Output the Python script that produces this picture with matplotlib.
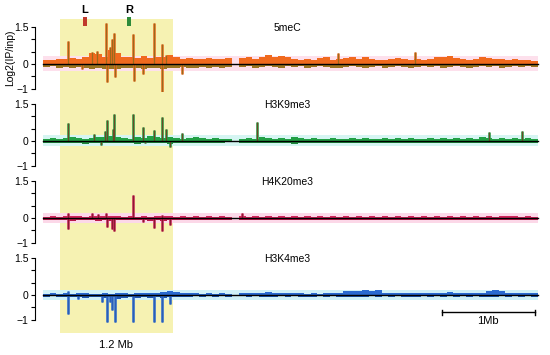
import numpy as np
import matplotlib
matplotlib.use('Agg')
import matplotlib.pyplot as plt
from matplotlib.patches import Rectangle

plt.rcParams['font.family'] = ['Liberation Sans', 'DejaVu Sans']

# genome coordinates in Mb
seg_a = (0.0, 2.03)
seg_b = (2.11, 5.32)
highlight = (0.18, 1.40)
mark_l = 0.452
mark_r = 0.927
scale_bar = (4.29, 5.29)

tracks = ['5meC', 'H3K9me3', 'H4K20me3', 'H3K4me3']

# background profiles (log2 IP/input), 29 bins in segment A, 46 in segment B
mec_up_a = [0.18, 0.15, 0.2, 0.22, 0.25, 0.2, 0.28, 0.45, 0.42, 0.3, 0.55, 0.45, 0.28, 0.3, 0.25,
            0.32, 0.25, 0.3, 0.28, 0.35, 0.3, 0.22, 0.25, 0.2, 0.22, 0.25, 0.2, 0.22, 0.25]
mec_dn_a = [-0.12, -0.1, -0.15, -0.12, -0.18, -0.12, -0.15, -0.2, -0.15, -0.2, -0.22, -0.2, -0.15, -0.18, -0.15,
            -0.2, -0.18, -0.15, -0.2, -0.18, -0.15, -0.12, -0.15, -0.18, -0.12, -0.15, -0.12, -0.15, -0.12]
mec_up_b = [0.25, 0.3, 0.22, 0.3, 0.35, 0.28, 0.32, 0.3, 0.2, 0.15, 0.22, 0.18, 0.25, 0.3, 0.15, 0.2,
            0.25, 0.3, 0.22, 0.3, 0.2, 0.15, 0.18, 0.2, 0.25, 0.22, 0.15, 0.2, 0.18, 0.22, 0.3,
            0.28, 0.32, 0.25, 0.2, 0.15, 0.2, 0.3, 0.25, 0.22, 0.2, 0.18, 0.2, 0.15, 0.18, 0.12]
mec_dn_b = [-0.12, -0.1, -0.15, -0.12, -0.1, -0.12, -0.15, -0.1, -0.12, -0.1, -0.15, -0.12, -0.1, -0.12, -0.15,
            -0.18, -0.12, -0.1, -0.12, -0.15, -0.12, -0.1, -0.15, -0.12, -0.1, -0.12, -0.15, -0.12, -0.1,
            -0.12, -0.1, -0.15, -0.12, -0.1, -0.12, -0.15, -0.12, -0.1, -0.12, -0.1, -0.15, -0.12, -0.1,
            -0.12, -0.1, -0.12]

k9_up_a = [0.1, 0.12, 0.1, 0.12, 0.15, 0.12, 0.1, 0.12, 0.15, 0.18, 0.2, 0.15, 0.12, 0.1, 0.15,
           0.12, 0.2, 0.15, 0.12, 0.18, 0.12, 0.1, 0.12, 0.15, 0.12, 0.1, 0.12, 0.1, 0.08]
k9_dn_a = [-0.08, -0.1, -0.08, -0.1, -0.08, -0.1, -0.12, -0.1, -0.08, -0.1, -0.08, -0.1, -0.08, -0.1, -0.12,
           -0.08, -0.1, -0.08, -0.1, -0.12, -0.1, -0.08, -0.1, -0.08, -0.1, -0.08, -0.1, -0.08, -0.06]
k9_up_b = [0.1, 0.12, 0.1, 0.15, 0.12, 0.1, 0.12, 0.1, 0.15, 0.12, 0.1, 0.12, 0.08, 0.1, 0.12, 0.1,
           0.08, 0.12, 0.1, 0.12, 0.1, 0.08, 0.12, 0.1, 0.12, 0.1, 0.12, 0.1, 0.08, 0.12, 0.1,
           0.12, 0.1, 0.12, 0.1, 0.12, 0.1, 0.15, 0.12, 0.1, 0.12, 0.1, 0.12, 0.1, 0.12, 0.1]
k9_dn_b = [-0.08, -0.1, -0.08, -0.1, -0.08, -0.1, -0.08, -0.1, -0.12, -0.08, -0.1, -0.08, -0.1, -0.08, -0.1,
           -0.08, -0.1, -0.08, -0.1, -0.08, -0.1, -0.08, -0.1, -0.08, -0.1, -0.08, -0.1, -0.08, -0.1,
           -0.08, -0.1, -0.08, -0.1, -0.08, -0.1, -0.08, -0.1, -0.08, -0.1, -0.08, -0.1, -0.08, -0.1,
           -0.08, -0.1, -0.08]

k20_up_a = [0.06, 0.08, 0.06, 0.08, 0.1, 0.08, 0.06, 0.08, 0.1, 0.08, 0.1, 0.08, 0.06, 0.08, 0.06,
            0.08, 0.06, 0.08, 0.1, 0.08, 0.06, 0.08, 0.06, 0.08, 0.06, 0.08, 0.06, 0.08, 0.06]
k20_dn_a = [-0.08, -0.1, -0.08, -0.1, -0.12, -0.1, -0.08, -0.1, -0.12, -0.1, -0.12, -0.1, -0.08, -0.1, -0.08,
            -0.1, -0.12, -0.1, -0.12, -0.1, -0.08, -0.1, -0.08, -0.1, -0.08, -0.1, -0.08, -0.1, -0.08]
k20_up_b = [0.08, 0.06, 0.08, 0.06, 0.08, 0.06, 0.08, 0.06, 0.08, 0.06, 0.08, 0.06, 0.08, 0.06, 0.08,
            0.06, 0.08, 0.06, 0.08, 0.06, 0.08, 0.06, 0.08, 0.06, 0.08, 0.06, 0.08, 0.06, 0.08, 0.06,
            0.08, 0.06, 0.08, 0.06, 0.08, 0.06, 0.08, 0.06, 0.08, 0.06, 0.08, 0.1, 0.08, 0.06, 0.08, 0.06]
k20_dn_b = [-0.08, -0.1, -0.08, -0.1, -0.08, -0.1, -0.08, -0.1, -0.08, -0.1, -0.08, -0.1, -0.08, -0.1, -0.08,
            -0.1, -0.08, -0.1, -0.08, -0.1, -0.08, -0.1, -0.08, -0.1, -0.08, -0.1, -0.08, -0.1, -0.08,
            -0.1, -0.08, -0.1, -0.08, -0.1, -0.08, -0.1, -0.08, -0.1, -0.08, -0.1, -0.08, -0.1, -0.08,
            -0.1, -0.08, -0.1]

k4_up_a = [0.06, 0.08, 0.06, 0.08, 0.06, 0.1, 0.08, 0.06, 0.04, 0.08, 0.06, 0.1, 0.08, 0.06, 0.08,
           0.1, 0.08, 0.1, 0.12, 0.18, 0.12, 0.08, 0.1, 0.08, 0.06, 0.08, 0.06, 0.08, 0.06]
k4_dn_a = [-0.08, -0.06, -0.08, -0.1, -0.08, -0.1, -0.12, -0.1, -0.08, -0.12, -0.1, -0.15, -0.12, -0.1, -0.12,
           -0.1, -0.12, -0.1, -0.12, -0.1, -0.08, -0.1, -0.08, -0.06, -0.08, -0.06, -0.08, -0.06, -0.08]
k4_up_b = [0.08, 0.1, 0.08, 0.1, 0.12, 0.08, 0.1, 0.08, 0.1, 0.08, 0.06, 0.08, 0.06, 0.08, 0.1, 0.1,
           0.15, 0.18, 0.15, 0.2, 0.15, 0.22, 0.1, 0.08, 0.1, 0.08, 0.1, 0.1, 0.08, 0.1, 0.1,
           0.08, 0.12, 0.1, 0.08, 0.1, 0.1, 0.1, 0.18, 0.2, 0.18, 0.1, 0.1, 0.1, 0.08, 0.1]
k4_dn_b = [-0.06, -0.08, -0.06, -0.08, -0.1, -0.08, -0.06, -0.08, -0.06, -0.08, -0.1, -0.08, -0.06, -0.08, -0.06,
           -0.08, -0.1, -0.08, -0.1, -0.08, -0.06, -0.08, -0.06, -0.08, -0.06, -0.08, -0.1, -0.08, -0.06,
           -0.08, -0.06, -0.08, -0.06, -0.08, -0.06, -0.08, -0.06, -0.08, -0.1, -0.08, -0.06, -0.08, -0.06,
           -0.08, -0.06, -0.08]

# individual peaks: position (Mb) and log2 value
mec_peak_x = [0.27, 0.42, 0.53, 0.58, 0.68, 0.69, 0.72, 0.74, 0.76, 0.77, 0.97, 0.98, 1.08, 1.19, 1.28, 1.28,
              1.32, 1.50, 3.17, 4.00]
mec_peak_y = [0.92, -0.2, 0.5, 0.52, 1.65, -0.74, 0.7, 1.0, 1.27, -0.54, 1.22, -0.68, -0.4, 1.65, 0.8, -1.12,
              0.35, -0.4, 0.45, 0.5]

k9_peak_x = [0.27, 0.55, 0.62, 0.67, 0.685, 0.75, 0.76, 0.97, 1.08, 1.10, 1.19, 1.28, 1.32, 1.37, 1.49,
             2.30, 4.80, 5.15]
k9_peak_y = [0.72, 0.27, -0.15, 0.4, 0.84, 0.5, 1.08, 1.1, 0.56, -0.1, 0.43, 0.99, 0.47, -0.25, 0.34,
             0.77, 0.38, 0.4]

k20_peak_x = [0.27, 0.27, 0.53, 0.59, 0.68, 0.69, 0.74, 0.76, 0.97, 1.08, 1.19, 1.28, 1.28, 1.37, 2.14]
k20_peak_y = [0.22, -0.46, 0.2, 0.15, 0.2, -0.36, -0.45, -0.53, 0.92, -0.15, -0.4, 0.12, -0.53, -0.27, 0.2]

k4_peak_x = [0.27, 0.27, 0.38, 0.63, 0.685, 0.72, 0.742, 0.774, 0.971, 1.194, 1.276, 1.366]
k4_peak_y = [0.16, -0.77, -0.15, -0.27, -1.1, -0.3, -0.6, -1.1, -1.1, -1.08, -1.08, -0.35]

track_data = [
    dict(up=(mec_up_a, mec_up_b), dn=(mec_dn_a, mec_dn_b), px=mec_peak_x, py=mec_peak_y,
         c_up='#F06A1E', c_dn='#9A7420', halo='#F06A1E', core='#9A6A1C', band='#FDE0EC', bl=(-0.28, 0.34)),
    dict(up=(k9_up_a, k9_up_b), dn=(k9_dn_a, k9_dn_b), px=k9_peak_x, py=k9_peak_y,
         c_up='#22A045', c_dn='#1E8A3C', halo='#22A045', core='#6A4A26', band='#D5F5F2', bl=(-0.2, 0.25)),
    dict(up=(k20_up_a, k20_up_b), dn=(k20_dn_a, k20_dn_b), px=k20_peak_x, py=k20_peak_y,
         c_up='#D0245A', c_dn='#B81848', halo='#D0245A', core='#8A1A32', band='#FCD8E8', bl=(-0.2, 0.22)),
    dict(up=(k4_up_a, k4_up_b), dn=(k4_dn_a, k4_dn_b), px=k4_peak_x, py=k4_peak_y,
         c_up='#2A6AD0', c_dn='#1F56B0', halo='#2A6AD0', core='#2A5EB8', band='#D0F2F8', bl=(-0.2, 0.22)),
]

W, H = 550, 355
fig = plt.figure(figsize=(5.5, 3.55), dpi=100)

xlim = (-0.086, 5.40)
left = 35 / W
width = 510 / W

# background layer in pixel units
bg = fig.add_axes([left, 0, width, 1])
bg.set_xlim(*xlim)
bg.set_ylim(H, 0)
bg.axis('off')
bg.add_patch(Rectangle((highlight[0], 19), highlight[1] - highlight[0], 314,
                       facecolor='#F6F2B2', edgecolor='none'))
bg.add_patch(Rectangle((mark_l - 0.025, 17), 0.05, 9, facecolor='#C0392B', edgecolor='none'))
bg.add_patch(Rectangle((mark_r - 0.025, 17), 0.05, 9, facecolor='#2E8B3A', edgecolor='none'))
bg.text(mark_l, 10, 'L', ha='center', va='center', fontsize=8, fontweight='bold')
bg.text(mark_r, 10, 'R', ha='center', va='center', fontsize=8, fontweight='bold')
bg.text(sum(highlight) / 2, 345, '1.2 Mb', ha='center', va='center', fontsize=8)
bg.plot(scale_bar, [312, 312], color='black', lw=1)
for sx in scale_bar:
    bg.plot([sx, sx], [309.5, 314.5], color='black', lw=1)
bg.text(sum(scale_bar) / 2, 321, '1Mb', ha='center', va='center', fontsize=8)

px_per_unit = 24.7
for k, (name, td) in enumerate(zip(tracks, track_data)):
    z = 64 + 77 * k
    bottom = 1 - (z + 1.15 * px_per_unit) / H
    height = 2.8 * px_per_unit / H
    ax = fig.add_axes([left, bottom, width, height])
    ax.set_facecolor('none')
    ax.set_xlim(*xlim)
    ax.set_ylim(-1.15, 1.65)

    ax.fill_between([seg_a[0], seg_b[1]], td['bl'][0], td['bl'][1], color=td['band'], lw=0)
    for seg, up, dn in zip((seg_a, seg_b), td['up'], td['dn']):
        edges = np.linspace(seg[0], seg[1], len(up) + 1)
        ax.fill_between(edges, 0, np.append(up, up[-1]), step='post', color=td['c_up'], lw=0)
        ax.fill_between(edges, 0, np.append(dn, dn[-1]), step='post', color=td['c_dn'], lw=0)
    ax.vlines(td['px'], 0, td['py'], color=td['halo'], lw=1.8)
    ax.vlines(td['px'], 0, td['py'], color=td['core'], lw=0.9)
    ax.plot([seg_a[0], seg_b[1]], [0, 0], color='black', lw=1.0)

    ax.text(2.63, 1.45, name, ha='center', va='center', fontsize=7.5)

    for s in ['top', 'right', 'bottom']:
        ax.spines[s].set_visible(False)
    ax.spines['left'].set_bounds(-1, 1.5)
    ax.spines['left'].set_linewidth(0.8)
    ax.set_yticks([-1, -0.5, 0, 0.5, 1, 1.5])
    ax.set_yticklabels(['\u22121', '', '0', '', '', '1.5'])
    ax.tick_params(axis='y', length=3, width=0.8, labelsize=7.5, pad=1.5)
    ax.set_xticks([])

fig.text(10 / W, 1 - 58 / H, 'Log2(IP/inp)', rotation=90, ha='center', va='center', fontsize=7.5)

fig.savefig('out.png', dpi=100)
